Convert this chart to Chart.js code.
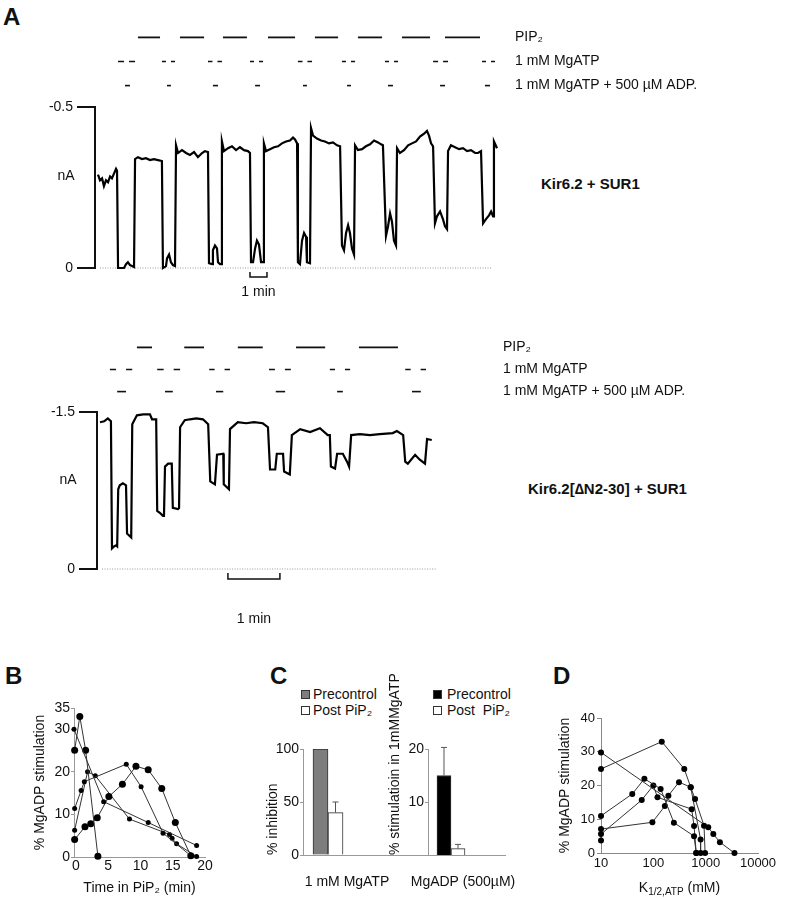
<!DOCTYPE html>
<html>
<head>
<meta charset="utf-8">
<script src="https://cdn.jsdelivr.net/npm/chart.js@4.4.0/dist/chart.umd.min.js"></script>
<style>
  body { margin: 0; background: #fff; width: 786px; height: 899px; position: relative; overflow: hidden;
         font-family: "Liberation Sans", Arial, sans-serif; color: #111; }
  canvas { position: absolute; }
  .t { position: absolute; white-space: nowrap; line-height: 1; }
  .panel { font-weight: bold; font-size: 24px; }
  .name { font-weight: bold; font-size: 15px; }
  .leg { font-size: 14px; }
  .box { position: absolute; width: 9px; height: 9px; box-sizing: border-box; border: 1px solid #333; }
</style>
</head>
<body>

<div class="t panel" style="left:3px;top:5px">A</div>
<div class="t panel" style="left:5px;top:664px">B</div>
<div class="t panel" style="left:270px;top:664px">C</div>
<div class="t panel" style="left:553px;top:664px">D</div>
<div class="t name" style="left:541px;top:176px">Kir6.2 + SUR1</div>
<div class="t name" style="left:528px;top:481px">Kir6.2[∆N2-30] + SUR1</div>
<div id="legends"></div>

<canvas id="protoTop" width="786" height="69" style="left:0;top:27px"></canvas>
<canvas id="traceTop" width="786" height="210" style="left:0;top:95px"></canvas>
<canvas id="protoBot" width="786" height="65" style="left:0;top:337px"></canvas>
<canvas id="traceBot" width="786" height="235" style="left:0;top:400px"></canvas>
<canvas id="chartB" width="232" height="210" style="left:28px;top:690px"></canvas>
<canvas id="chartC1" width="168" height="240" style="left:260px;top:660px"></canvas>
<canvas id="chartC2" width="140" height="240" style="left:382px;top:660px"></canvas>
<canvas id="chartD" width="234" height="210" style="left:552px;top:690px"></canvas>

<script>
// ---- panel A: solution changes (start, end in min) ----
var protocolRows = ['PIP₂', '1 mM MgATP', '1 mM MgATP + 500 µM ADP.'];
var pipTop = [[2.35,3.65],[4.82,6.24],[7.35,8.76],[10.0,11.59],[12.76,14.12],[15.29,16.71],[17.88,19.53],[20.41,22.47]];
var atpTop = [[1.18,2.18],[3.76,4.53],[6.47,7.29],[8.94,9.71],[11.76,12.59],[14.35,15.12],[16.88,17.65],[19.71,20.59],[22.59,23.35]];
var adpTop = [[1.59,1.88],[4.06,4.29],[6.76,7.06],[9.24,9.53],[12.06,12.29],[14.65,14.88],[17.06,17.35],[20.12,20.41],[22.76,23.06]];
var pipBot = [[0.71,1.0],[1.62,2.0],[2.65,3.13],[3.77,4.33],[4.98,5.73]];
var atpBot = [[0.19,0.62],[1.1,1.54],[2.1,2.5],[3.25,3.67],[4.42,4.81],[5.87,6.27]];
var adpBot = [[0.33,0.5],[1.25,1.4],[2.23,2.37],[3.38,3.56],[4.56,4.67],[6.0,6.17]];

// ---- panel A: current traces [time (min), current (nA)] ----
var topTrace = [
  [0,-0.291],[0.12,-0.273],[0.24,-0.279],[0.35,-0.255],[0.47,-0.273],[0.59,-0.267],[0.71,-0.285],[0.82,-0.279],[0.94,-0.294],[1.06,-0.309],[1.12,-0.303],
  [1.18,0],[1.53,0],[1.65,-0.012],[1.76,-0.018],[1.88,-0.009],[2.0,-0.006],[2.12,-0.003],
  [2.18,-0.339],[2.35,-0.345],[2.59,-0.339],[2.82,-0.342],[3.06,-0.336],[3.29,-0.339],[3.53,-0.336],[3.76,-0.333],
  [3.82,0],[4.0,-0.006],[4.06,-0.03],[4.18,-0.042],[4.29,-0.018],[4.41,-0.009],[4.53,-0.006],
  [4.59,-0.382],[4.71,-0.358],[4.94,-0.367],[5.18,-0.358],[5.41,-0.352],[5.65,-0.361],[5.88,-0.345],[6.12,-0.358],[6.29,-0.364],[6.47,-0.361],
  [6.53,-0.015],[6.71,-0.012],[6.76,-0.055],[6.88,-0.07],[7.0,-0.061],[7.06,-0.018],[7.18,-0.012],[7.24,-0.012],
  [7.29,-0.394],[7.41,-0.364],[7.65,-0.373],[7.88,-0.379],[8.12,-0.367],[8.35,-0.376],[8.59,-0.367],[8.82,-0.364],[8.94,-0.358],
  [9.0,-0.018],[9.12,-0.018],[9.24,-0.061],[9.35,-0.085],[9.47,-0.073],[9.59,-0.018],[9.71,-0.018],
  [9.76,-0.388],[9.88,-0.364],[10.12,-0.37],[10.35,-0.376],[10.59,-0.379],[10.82,-0.388],[11.06,-0.394],[11.29,-0.397],[11.47,-0.406],[11.59,-0.4],[11.71,-0.388],
  [11.76,-0.018],[11.88,-0.012],[12.0,-0.085],[12.12,-0.109],[12.24,-0.097],[12.29,-0.018],[12.47,-0.015],
  [12.53,-0.436],[12.65,-0.412],[12.88,-0.403],[13.12,-0.397],[13.35,-0.394],[13.59,-0.388],[13.82,-0.391],[14.06,-0.382],[14.24,-0.379],
  [14.35,-0.07],[14.47,-0.055],[14.59,-0.109],[14.71,-0.133],[14.82,-0.109],[14.94,-0.061],[15.06,-0.042],
  [15.12,-0.382],[15.29,-0.367],[15.53,-0.37],[15.76,-0.379],[16.0,-0.385],[16.24,-0.397],[16.47,-0.391],[16.65,-0.385],[16.76,-0.382],
  [16.94,-0.1],[17.06,-0.13],[17.18,-0.17],[17.29,-0.145],[17.41,-0.085],[17.53,-0.07],
  [17.59,-0.373],[17.76,-0.358],[18.0,-0.367],[18.24,-0.382],[18.47,-0.388],[18.71,-0.394],[18.94,-0.409],[19.18,-0.418],[19.35,-0.427],[19.47,-0.412],[19.59,-0.388],[19.71,-0.379],
  [19.82,-0.139],[19.94,-0.161],[20.12,-0.176],[20.29,-0.152],[20.41,-0.13],[20.53,-0.121],
  [20.59,-0.364],[20.76,-0.382],[21.0,-0.376],[21.24,-0.37],[21.47,-0.373],[21.71,-0.364],[21.94,-0.367],[22.18,-0.358],[22.35,-0.358],[22.53,-0.364],
  [22.65,-0.139],[22.82,-0.152],[23.0,-0.164],[23.12,-0.176],[23.24,-0.161],
  [23.29,-0.394],[23.47,-0.373]
];
var botTrace = [
  [0,-1.406],[0.08,-1.415],[0.15,-1.443],[0.21,-1.415],
  [0.23,-0.198],[0.27,-0.217],[0.31,-0.226],[0.33,-0.217],
  [0.35,-0.764],[0.38,-0.802],[0.44,-0.821],[0.5,-0.802],
  [0.52,-0.34],[0.6,-0.302],
  [0.62,-1.387],[0.71,-1.472],[0.83,-1.481],[0.96,-1.481],[1.0,-1.434],[1.08,-1.434],
  [1.1,-0.557],[1.15,-0.538],[1.21,-0.509],[1.23,-0.509],
  [1.25,-0.981],[1.31,-1.009],[1.38,-1.009],
  [1.4,-0.585],[1.5,-0.575],[1.52,-0.585],
  [1.54,-1.358],[1.63,-1.425],[1.73,-1.434],[1.85,-1.443],[1.98,-1.434],[2.08,-1.387],
  [2.12,-0.84],[2.21,-0.811],
  [2.25,-1.094],[2.37,-1.104],
  [2.38,-0.811],[2.48,-0.764],
  [2.5,-1.34],[2.65,-1.406],[2.81,-1.396],[2.96,-1.406],[3.13,-1.396],[3.23,-1.358],
  [3.27,-0.953],[3.37,-0.953],
  [3.4,-1.104],[3.52,-1.104],
  [3.54,-0.934],[3.65,-0.906],
  [3.69,-1.283],[3.85,-1.34],[4.04,-1.311],[4.23,-1.349],[4.38,-1.283],[4.42,-1.283],
  [4.44,-0.981],[4.52,-0.962],
  [4.56,-1.104],[4.67,-1.104],[4.75,-1.028],[4.79,-0.981],
  [4.83,-1.283],[5.0,-1.292],[5.19,-1.283],[5.38,-1.292],[5.63,-1.302],[5.71,-1.321],[5.83,-1.283],
  [5.87,-1.028],[5.92,-1.009],[6.06,-1.094],[6.15,-1.047],[6.25,-1.009],
  [6.29,-1.245],[6.38,-1.236]
];
var topTicks = [-0.5, 0];
var botTicks = [-1.5, 0];

// ---- panel B: % MgADP stimulation vs time in PIP2 (min) ----
var b1T = [-0.3, 4.3, 11.2, 18.7],               b1Y = [30, 13.0, 8.1, 2.7];
var b2T = [-0.2, 0.6, 1.5, 3.4],                 b2Y = [25.1, 33.0, 25.1, 0.2];
var b3T = [-0.2, 0.8, 1.3, 7.8, 10.1, 13.5, 17.8], b3Y = [11.4, 15.6, 17.7, 21.8, 16.5, 5.6, 0.3];
var b4T = [-0.2, 1.4, 2.3, 3.3, 5.1, 7.2, 9.3, 11.2, 13.3, 15.4, 17.8];
var b4Y = [4.1, 7.1, 7.8, 9.2, 14.2, 17.1, 21.3, 20.5, 16.1, 8.1, 0.3];
var b5T = [-0.2, 1.8, 3.0, 8.3, 14.5, 14.9, 15.6, 18.7], b5Y = [6.3, 20.0, 19.1, 8.9, 5.3, 4.4, 3.1, 0.1];
var bTicksX = [0, 5, 10, 15, 20];
var bTicksY = [0, 10, 20, 30, 35];

// ---- panel C ----
var cCategories = ['1 mM MgATP', 'MgADP (500µM)'];
var cLegendLeft = ['Precontrol', 'Post PiP₂'];
var cLegendRight = ['Precontrol', 'Post\u00a0 PiP₂'];
var cPre = [100, 15];
var cPost = [40, 1.2];
var cPreErr = [0, 5.3];
var cPostErr = [10, 0.8];

// ---- panel D: % MgADP stimulation vs K1/2,ATP ----
var d1K = [10, 145, 390, 518, 628, 930, 975],  d1Y = [24.9, 33.0, 24.9, 19.5, 16.0, 8.1, 0];
var d2K = [10, 1120, 1400, 1870, 3550],        d2Y = [29.8, 7.6, 5.6, 3.2, 0];
var d3K = [10, 39.6, 67.5, 138, 247, 600, 660], d3Y = [11.0, 17.5, 22.0, 19.0, 9.0, 5.0, 0];
var d4K = [10, 10, 60, 100, 120, 540, 600, 660], d4Y = [3.7, 5.6, 15.7, 20.0, 16.5, 13.0, 8.0, 0];
var d5K = [10, 96, 166, 194, 309, 518, 800, 800], d5Y = [7.1, 9.1, 13.9, 17.0, 21.0, 19.5, 4.0, 0];
var dTicksX = [10, 100, 1000, 10000];
var dTicksY = [0, 10, 20, 30, 40];

var FONT = '"Liberation Sans", Arial, sans-serif';
Chart.defaults.font.family = FONT;
Chart.defaults.color = '#111';
Chart.defaults.responsive = false;
Chart.defaults.animation = false;
Chart.defaults.plugins.legend.display = false;
Chart.defaults.plugins.tooltip.enabled = false;

function fixW(w) { return function (s) { s.width = w; }; }
function fixH(h) { return function (s) { s.height = h; s.paddingLeft = 0; s.paddingRight = 0; }; }
function setTicks(list) { return function (s) { s.ticks = list.map(function (v) { return {value: v}; }); }; }
function xy(xs, ys) { return xs.map(function (x, i) { return {x: x, y: ys[i]}; }); }

// scale bar + unit label for the traces
var traceDecor = {
  id: 'traceDecor',
  afterDraw: function (chart, args, o) {
    var ctx = chart.ctx, a = chart.chartArea, x = chart.scales.x;
    var x0 = x.getPixelForValue(o.barStart), x1 = x.getPixelForValue(o.barStart + 1);
    var y0 = a.bottom + o.gap;
    ctx.save();
    ctx.strokeStyle = '#111';
    ctx.lineWidth = 1.5;
    ctx.beginPath();
    ctx.moveTo(x0, y0); ctx.lineTo(x0, y0 + o.h); ctx.lineTo(x1, y0 + o.h); ctx.lineTo(x1, y0);
    ctx.stroke();
    ctx.fillStyle = '#111';
    ctx.font = '14px ' + FONT;
    ctx.textAlign = 'center';
    ctx.textBaseline = 'middle';
    ctx.fillText('1 min', (x0 + x1) / 2, a.bottom + o.textGap);
    ctx.fillText(o.unit, a.left - 29, a.top + 0.43 * (a.bottom - a.top));
    ctx.restore();
  }
};

var errorBars = {
  id: 'errorBars',
  afterDatasetsDraw: function (chart) {
    var ctx = chart.ctx;
    ctx.save();
    ctx.strokeStyle = '#555';
    ctx.lineWidth = 1;
    chart.data.datasets.forEach(function (ds, i) {
      if (!ds.errors) return;
      var meta = chart.getDatasetMeta(i);
      var ys = chart.scales[meta.yAxisID];
      meta.data.forEach(function (bar, j) {
        var e = ds.errors[j];
        if (!e) return;
        var top = ys.getPixelForValue(ds.data[j].y + e);
        ctx.beginPath();
        ctx.moveTo(bar.x, bar.y); ctx.lineTo(bar.x, top);
        ctx.moveTo(bar.x - 3, top); ctx.lineTo(bar.x + 3, top);
        ctx.stroke();
      });
    });
    ctx.restore();
  }
};

// x title with a subscript
var richTitle = {
  id: 'richTitle',
  afterDraw: function (chart, args, o) {
    if (!o.parts) return;
    var ctx = chart.ctx, a = chart.chartArea;
    ctx.save();
    ctx.fillStyle = '#111';
    ctx.textBaseline = 'middle';
    ctx.textAlign = 'left';
    var w = o.parts.map(function (p) { ctx.font = (p.sub ? 10 : 14) + 'px ' + FONT; return ctx.measureText(p.text).width; });
    var x = (a.left + a.right) / 2 - w.reduce(function (s, v) { return s + v; }, 0) / 2;
    o.parts.forEach(function (p, i) {
      ctx.font = (p.sub ? 10 : 14) + 'px ' + FONT;
      ctx.fillText(p.text, x, a.bottom + o.gap + (p.sub ? 4 : 0));
      x += w[i];
    });
    ctx.restore();
  }
};

// each MgATP interval is drawn as two dashes with a fixed gap between them
function pairDash(gap) {
  return function (c) {
    var d = Math.max(1, (c.p1.x - c.p0.x - gap) / 2);
    return [d, gap];
  };
}

function protoDatasets(sets, gap) {
  var out = [];
  sets.forEach(function (segs, r) {
    segs.forEach(function (s) {
      out.push({
        data: [{x: s[0], y: protocolRows[r]}, {x: s[1], y: protocolRows[r]}],
        borderColor: '#111', borderWidth: r === 0 ? 1.8 : 1.6,
        segment: r === 1 ? {borderDash: pairDash(gap)} : {},
        pointRadius: 0, clip: false
      });
    });
  });
  return out;
}

function protoChart(id, sets, gap, xMin, xMax, left, axisW) {
  return new Chart(document.getElementById(id), {
    type: 'line',
    data: {datasets: protoDatasets(sets, gap)},
    options: {
      layout: {padding: {left: left, top: 10, bottom: 10, right: 0}},
      scales: {
        x: {type: 'linear', min: xMin, max: xMax, display: false},
        y: {type: 'category', labels: protocolRows, position: 'right', offset: false,
            grid: {display: false}, border: {display: false}, afterFit: fixW(axisW),
            ticks: {font: {size: 14}, padding: 2, crossAlign: 'near', autoSkip: false}}
      }
    }
  });
}

function traceChart(id, trace, base, ticks, o) {
  return new Chart(document.getElementById(id), {
    type: 'line',
    data: {datasets: [
      {data: trace.map(function (p) { return {x: p[0], y: p[1]}; }), borderColor: '#000', borderWidth: 2.2, pointRadius: 0, clip: false},
      {data: [{x: base[0], y: 0}, {x: base[1], y: 0}], borderColor: '#999', borderWidth: 1, borderDash: [1, 1.5], pointRadius: 0, clip: false}
    ]},
    options: {
      layout: {padding: {top: o.top, right: o.right, bottom: o.bottom, left: 0}},
      scales: {
        x: {type: 'linear', min: o.xMin, max: o.xMax, display: false},
        y: {min: ticks[0], max: 0, reverse: true, afterFit: fixW(o.axisW), afterBuildTicks: setTicks(ticks),
            grid: {drawOnChartArea: false, tickLength: 18, color: '#111', lineWidth: 2},
            border: {color: '#111', width: 2},
            ticks: {font: {size: 14}, padding: 4, callback: function (v) { return String(v); }}}
      },
      plugins: {traceDecor: {barStart: o.barStart, gap: 4, h: o.barH, textGap: o.textGap, unit: 'nA'}}
    },
    plugins: [traceDecor]
  });
}

protoChart('protoTop', [pipTop, atpTop, adpTop], 5, -0.176, 23.94, 95, 281);
traceChart('traceTop', topTrace, [0.12, 23.18], topTicks,
  {top: 8, right: 281, bottom: 37, xMin: -0.176, xMax: 23.94, axisW: 95, barStart: 8.94, barH: 5, textGap: 24});
protoChart('protoBot', [pipBot, atpBot, adpBot], 10, -0.058, 7.558, 97, 293);
traceChart('traceBot', botTrace, [0.04, 6.46], botTicks,
  {top: 10, right: 293, bottom: 66, xMin: -0.058, xMax: 7.558, axisW: 97, barStart: 2.46, barH: 6, textGap: 50});

// ---- B ----
var bSeries = [[b1T, b1Y, 2.5], [b2T, b2Y, 3.5], [b3T, b3Y, 2.5], [b4T, b4Y, 3.5], [b5T, b5Y, 2.5]];
new Chart(document.getElementById('chartB'), {
  type: 'line',
  data: {datasets: bSeries.map(function (s) {
    return {data: xy(s[0], s[1]), borderColor: '#333', borderWidth: 1, pointRadius: s[2],
            pointBackgroundColor: '#000', pointBorderColor: '#000', pointBorderWidth: 0, clip: false};
  })},
  options: {
    layout: {padding: {top: 18, right: 55, left: 0, bottom: 0}},
    scales: {
      x: {type: 'linear', min: -0.3, max: 20, afterFit: fixH(43), afterBuildTicks: setTicks(bTicksX),
          grid: {drawOnChartArea: false, drawTicks: false}, border: {color: '#999', dash: [2, 2]},
          ticks: {font: {size: 14}, padding: 1, maxRotation: 0},
          title: {display: true, text: 'Time in PiP₂ (min)', font: {size: 14}, padding: {top: 0, bottom: 3}}},
      y: {min: 0, max: 35, afterFit: fixW(46), afterBuildTicks: setTicks(bTicksY),
          grid: {drawOnChartArea: false, tickLength: 3, color: '#999'}, border: {color: '#999', dash: [2, 2]},
          ticks: {font: {size: 14}, padding: 1},
          title: {display: true, text: '% MgADP stimulation', font: {size: 14}, padding: {top: 4, bottom: 0}}}
    }
  }
});

// ---- C ----
function barChart(id, idx, o) {
  return new Chart(document.getElementById(id), {
    type: 'bar',
    data: {datasets: [
      {label: cLegendLeft[0], data: [{x: 0, y: cPre[idx]}], errors: [cPreErr[idx]], backgroundColor: o.preColor,
       borderColor: '#333', borderWidth: 1, barThickness: o.thick},
      {label: cLegendLeft[1], data: [{x: 0, y: cPost[idx]}], errors: [cPostErr[idx]], backgroundColor: '#fff',
       borderColor: '#333', borderWidth: 1, barThickness: o.thick}
    ]},
    options: {
      layout: {padding: {top: 89, right: o.right, left: 0, bottom: 0}},
      scales: {
        x: {type: 'linear', min: -1, max: o.xMax, offset: false, afterFit: fixH(45), afterBuildTicks: setTicks([0]),
            grid: {drawOnChartArea: false, drawTicks: false}, border: {color: '#999', dash: [2, 2]},
            ticks: {font: {size: 14}, padding: 19, labelOffset: o.labelOffset, maxRotation: 0, autoSkip: false,
                    callback: function () { return cCategories[idx]; }}},
        y: {min: 0, max: o.yMax, afterFit: fixW(o.axisW), afterBuildTicks: setTicks(o.ticks),
            grid: {drawOnChartArea: false, tickLength: 3, color: '#999'}, border: {color: '#999'},
            ticks: {font: {size: 14}, padding: 1},
            title: {display: true, text: o.title, align: 'start', font: {size: 14}, padding: {top: 5, bottom: 0}}}
      }
    },
    plugins: [errorBars]
  });
}
barChart('chartC1', 0, {preColor: '#7d7d7d', thick: 15, right: 0, xMax: 4, labelOffset: 19, yMax: 100,
  axisW: 43, ticks: [0, 50, 100], title: '% inhibition'});
barChart('chartC2', 1, {preColor: '#000', thick: 14, right: 17, xMax: 2.35, labelOffset: 12, yMax: 20,
  axisW: 46, ticks: [10, 20], title: '% stimulatioin in 1mMMgATP'});

// legends of C
(function () {
  var html = '';
  var groups = [[cLegendLeft, ['#7d7d7d', '#fff'], 301, 313], [cLegendRight, ['#000', '#fff'], 433, 447]];
  groups.forEach(function (g) {
    g[0].forEach(function (name, i) {
      var y = 694 + i * 16;
      html += '<div class="box" style="left:' + g[2] + 'px;top:' + (y - 4) + 'px;background:' + g[1][i] + '"></div>';
      html += '<div class="t leg" style="left:' + g[3] + 'px;top:' + (y - 7) + 'px">' + name + '</div>';
    });
  });
  document.getElementById('legends').innerHTML = html;
})();

// ---- D ----
var dSeries = [[d1K, d1Y], [d2K, d2Y], [d3K, d3Y], [d4K, d4Y], [d5K, d5Y]];
new Chart(document.getElementById('chartD'), {
  type: 'line',
  data: {datasets: dSeries.map(function (s) {
    return {data: xy(s[0], s[1]), borderColor: '#333', borderWidth: 1, pointRadius: 3,
            pointBackgroundColor: '#000', pointBorderColor: '#000', pointBorderWidth: 0, clip: false};
  })},
  options: {
    layout: {padding: {top: 28, right: 28, left: 0, bottom: 0}},
    scales: {
      x: {type: 'logarithmic', min: 10, max: 10000, afterFit: fixH(47), afterBuildTicks: setTicks(dTicksX),
          grid: {drawOnChartArea: false, drawTicks: false}, border: {color: '#888'},
          ticks: {font: {size: 13}, padding: 3, maxRotation: 0, autoSkip: false, callback: function (v) { return String(v); }}},
      y: {min: 0, max: 40, afterFit: fixW(49), afterBuildTicks: setTicks(dTicksY),
          grid: {drawOnChartArea: false, tickLength: 4, color: '#888'}, border: {color: '#888'},
          ticks: {font: {size: 13}, padding: 2},
          title: {display: true, text: '% MgADP stimulation', font: {size: 14}, padding: {top: 5, bottom: 0}}}
    },
    plugins: {richTitle: {gap: 35, parts: [{text: 'K'}, {text: '1/2,ATP', sub: true}, {text: ' (mM)'}]}}
  },
  plugins: [richTitle]
});
</script>
</body>
</html>
